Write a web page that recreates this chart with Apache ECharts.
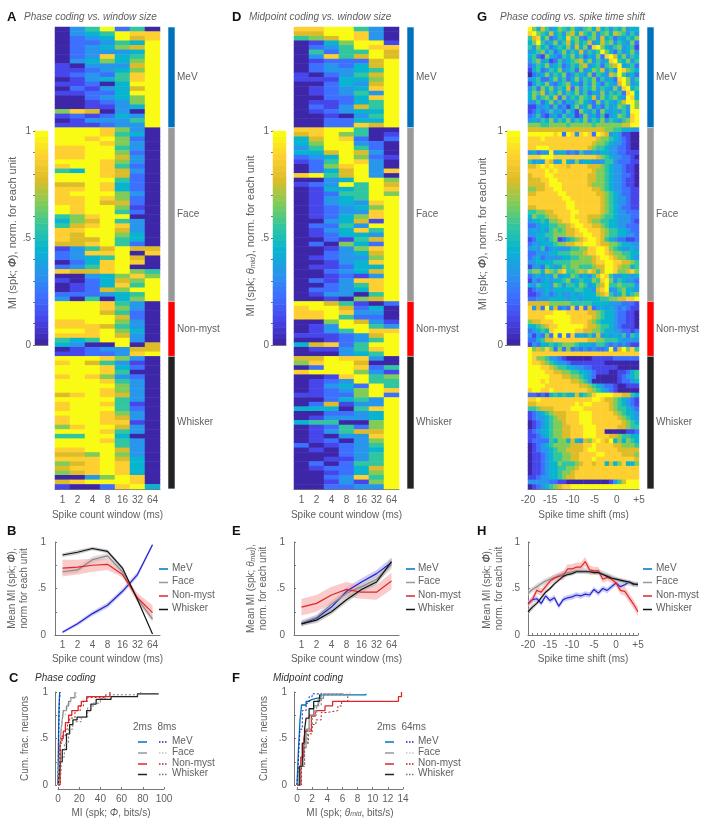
<!DOCTYPE html>
<html>
<head>
<meta charset="utf-8">
<title>Phase and midpoint coding</title>
<style>
    html, body { margin: 0; padding: 0; background: #fff; }
    #main { width: 707px; height: 827px; }
</style>
<script src="https://cdn.jsdelivr.net/npm/echarts@6/dist/echarts.min.js"></script>
</head>
<body>
<div id="main"></div>
<script>
const windowLabels = ['1', '2', '4', '8', '16', '32', '64']
const groupNames = ['MeV', 'Face', 'Non-myst', 'Whisker']
const groupSizes = [22, 38, 12, 29]

// heatmap rows, one digit per cell, 0 to 9 is the colour scale
const phaseWinMeV = ['0359250', '0345988', '0234978', '0223549', '0234679', '0233349', '0238459', '0346469', '1033379', '1123469', '1232589', '0134589', '1120499', '0213479', '1122499', '0023469', '0012369', '0011349', '6870309', '1212439', '0133359', '1112339']
const phaseWinFace = ['9998630', '9998540', '9989620', '9998630', '8899530', '8899620', '8899730', '9998630', '8998520', '5498730', '9998720', '9999520', '7798420', '8898420', '8999630', '8898620', '8897720', '9899610', '9899520', '5689900', '4679530', '5789830', '8899730', '8799640', '8779540', '7789520', '1357977', '2388908', '2345970', '0248980', '2358900', '8778965', '0034686', '1024769', '0124859', '0127699', '2223459', '3050469']
const phaseWinNon = ['9998530', '9998630', '9997520', '9999720', '8899630', '8887530', '9989640', '8889730', '5459930', '4300907', '0123377', '1122389']
const phaseWinWhisker = ['9998630', '8975310', '9998420', '9998500', '8986320', '9998530', '9999630', '9998630', '7898730', '9999530', '8998510', '8999520', '9998630', '8998730', '8998810', '6899730', '9998530', '5599400', '9998530', '9999530', '8899730', '7769630', '8889740', '6789840', '7889840', '6789840', '0036980', '7899980', '1002894']

const midWinMeV = ['8899530', '7799830', '5679830', '0146991', '0235988', '0525597', '0385797', '0122279', '0232479', '0233459', '1023579', '1114469', '0024379', '0123489', '0123539', '0022489', '0112459', '0213759', '0123449', '0010359', '0022449', '0022879']
const midWinFace = ['8899500', '7896501', '4798202', '4699320', '3599520', '4479730', '2349621', '1259830', '0268930', '0247938', '8957930', '0034996', '1239597', '0144598', '0125596', '0134599', '0134389', '0123469', '0123389', '0124689', '0034719', '0225399', '0134859', '0124439', '0021579', '0206429', '0013689', '0023479', '0123369', '0013489', '0112449', '0023479', '0012139', '0213889', '0023589', '0223489', '0133059', '0010679']
const midWinNon = ['9975102', '8997240', '8898330', '8895220', '0069731', '0139953', '0135988', '1112379', '0012359', '4782599', '0113589', '0003459']
const midWinWhisker = ['7798830', '6899700', '0299825', '8999631', '0018956', '0123955', '0134295', '0123698', '1122692', '0024539', '0271339', '4440589', '0022349', '0133349', '4550069', '0125269', '0135779', '0103389', '0120369', '2012359', '0102349', '0002359', '0011359', '0202559', '0122479', '0012469', '0023859', '0013169', '0022339']

const phaseShiftMeV = ['96475346546435647453546344', '89654745367475463564765353', '57846235485632563745243546', '46953463574645734756354362', '53645245463746289643563451', '34563524635473545964253463', '45216432546352436289746354', '35634125345674635348954635', '23546345235467345256793452', '14523546345263465735398654', '02346354623543625437695342', '34522463524635462534289635', '13546324563425364254379634', '35264635472635463543638945', '46573546354635243635452894', '46356472635465473645643984', '33524635243564326354357996', '11334252314634624253465396', '12423534253164352643435399', '23521342534126342513465389', '34354635463546354635435689', '66655666656666656666667799']
const phaseShiftFace = ['77777777777777777766554433', '99999989298389829873431100', '88898888888888887665432100', '88888888888888876654332100', '88999888888888765543322100', '34233934423253343443322111', '88899988888888887654332210', '53438734843634433355322211', '77898988878888777654332110', '88889898888888876654332110', '78889988888888776654332210', '77788998888888776654332110', '77778999888888766654332110', '66778899888888877654332211', '77888889988888887765432211', '88888888998888888765433211', '88888888899888888765433211', '77888888899888888765432211', '55667788889988888765433222', '46556778889888777655433322', '34454667889988766554433321', '22344556678998877654433222', '34343565677899888765544322', '33445566677889988765544332', '12443561245678998754322112', '23344456677889998776654433', '34352343335566889986543343', '22333445556667889987665544', '23423333445566678998766543', '33444455556666678899887765', '13325434656655567799876645', '56647657855676875799866786', '23434363446534357985334434', '13234344563454465896354332', '43544365355465346795565553', '12334344444554437893356443', '11234234334344446785346456', '22333444434434444556677889']
const phaseShiftNon = ['77777666665555544443332221', '83729372328282723434323211', '88888899988888776544322110', '88889999998888876544322110', '67788899998888765444322110', '44567889999998776554321110', '23454899999887766544332212', '31326292928343537343435254', '22457788888888776655543333', '13244545666544435532323211', '96768626262323232239279685', '98888888888888888888888888']
const phaseShiftWhisker = ['98665332100000011111222222', '98876543321111111100000000', '99988765544332211111100000', '99998877665544321110011245', '99999888776654320000012345', '99989888887765300000012234', '99998888888877654322100111', '89988988888888765432100000', '22121454544745689999887754', '88988888888888899877654321', '77888888888989988887654321', '55677788889998888887655432', '12345677788899988888765443', '12334567788899988888876543', '01234566788899988888887654', '01234566778889998888877655', '12344566778889998800000112', '11234566778889998887765544', '12222546647437689879464654', '01234566667778898888776665', '01233456677778998888877777', '01123455667788889988887776', '01123455667788898888888887', '01123446555678878847468446', '01123445566788888888888888', '01123445667888888888888888', '11233445677888888888888888', '33333221100000000001357999', '01234567889999999999999999']

// mean and error of panels B, E, H
const phaseWinMean = [
    [0.03, 0.12, 0.23, 0.32, 0.47, 0.65, 0.97],
    [0.68, 0.70, 0.81, 0.85, 0.68, 0.39, 0.17],
    [0.72, 0.73, 0.75, 0.76, 0.65, 0.40, 0.24],
    [0.86, 0.89, 0.93, 0.90, 0.72, 0.38, 0.01]
]
const phaseWinErr = [
    [0.015, 0.02, 0.025, 0.03, 0.03, 0.03, 0.02],
    [0.03, 0.03, 0.035, 0.03, 0.03, 0.03, 0.03],
    [0.09, 0.08, 0.07, 0.06, 0.03, 0.05, 0.08],
    [0.02, 0.025, 0.02, 0.02, 0.02, 0.01, 0.01]
]
const midWinMean = [
    [0.12, 0.18, 0.30, 0.47, 0.57, 0.66, 0.78],
    [0.13, 0.19, 0.33, 0.45, 0.52, 0.60, 0.76],
    [0.30, 0.34, 0.43, 0.49, 0.46, 0.46, 0.58],
    [0.12, 0.16, 0.25, 0.38, 0.49, 0.57, 0.79]
]
const midWinErr = [
    [0.03, 0.03, 0.04, 0.04, 0.04, 0.04, 0.05],
    [0.03, 0.03, 0.04, 0.04, 0.04, 0.04, 0.05],
    [0.09, 0.09, 0.09, 0.08, 0.07, 0.08, 0.09],
    [0.02, 0.03, 0.03, 0.03, 0.03, 0.03, 0.04]
]
const shiftTimes = ['-20', '-19', '-18', '-17', '-16', '-15', '-14', '-13', '-12', '-11', '-10', '-9', '-8', '-7', '-6', '-5', '-4', '-3', '-2', '-1', '0', '1', '2', '3', '4', '5']
const shiftMean = [
    [0.34, 0.38, 0.39, 0.34, 0.42, 0.37, 0.40, 0.31, 0.38, 0.40, 0.41, 0.43, 0.42, 0.44, 0.43, 0.49, 0.45, 0.50, 0.48, 0.52, 0.56, 0.52, 0.54, 0.57, 0.54, 0.55],
    [0.45, 0.49, 0.52, 0.55, 0.58, 0.60, 0.62, 0.64, 0.66, 0.67, 0.68, 0.69, 0.69, 0.69, 0.68, 0.68, 0.68, 0.66, 0.64, 0.62, 0.60, 0.58, 0.57, 0.56, 0.55, 0.54],
    [0.33, 0.38, 0.48, 0.46, 0.52, 0.58, 0.61, 0.63, 0.64, 0.71, 0.71, 0.73, 0.73, 0.79, 0.70, 0.69, 0.69, 0.60, 0.62, 0.60, 0.56, 0.48, 0.47, 0.40, 0.33, 0.25],
    [0.25, 0.30, 0.34, 0.40, 0.46, 0.50, 0.55, 0.59, 0.63, 0.65, 0.66, 0.68, 0.68, 0.68, 0.68, 0.67, 0.67, 0.65, 0.63, 0.61, 0.60, 0.59, 0.58, 0.57, 0.55, 0.54]
]
const shiftErr = [
    [0.03, 0.03, 0.03, 0.03, 0.03, 0.03, 0.03, 0.03, 0.03, 0.03, 0.03, 0.03, 0.03, 0.03, 0.03, 0.03, 0.03, 0.03, 0.03, 0.03, 0.03, 0.03, 0.02, 0.02, 0.02, 0.02],
    [0.03, 0.03, 0.03, 0.03, 0.03, 0.03, 0.03, 0.03, 0.03, 0.03, 0.03, 0.03, 0.03, 0.03, 0.03, 0.03, 0.03, 0.03, 0.03, 0.03, 0.03, 0.03, 0.03, 0.03, 0.03, 0.03],
    [0.03, 0.04, 0.04, 0.04, 0.04, 0.04, 0.04, 0.04, 0.05, 0.05, 0.05, 0.05, 0.05, 0.05, 0.05, 0.04, 0.04, 0.04, 0.04, 0.04, 0.04, 0.04, 0.05, 0.05, 0.05, 0.05],
    [0.03, 0.03, 0.02, 0.02, 0.02, 0.02, 0.02, 0.02, 0.02, 0.02, 0.02, 0.02, 0.02, 0.02, 0.02, 0.02, 0.02, 0.02, 0.02, 0.02, 0.02, 0.02, 0.02, 0.02, 0.02, 0.02]
]

// cumulative fractions, [MI, fraction]
const cumPhase2 = [
    [[0, 0], [0.3, 0.3], [0.6, 0.6], [1, 0.85], [1.6, 1]],
    [[0, 0], [1, 0.2], [2, 0.45], [3, 0.6], [4, 0.7], [5, 0.8], [8, 0.85], [10, 0.9], [12, 0.94], [16, 1]],
    [[0, 0], [2, 0.42], [3, 0.5], [5, 0.58], [7, 0.67], [10, 0.75], [13, 0.8], [19, 0.85], [22, 0.9], [27, 0.95], [49, 1]],
    [[0, 0], [1, 0.1], [2, 0.25], [4, 0.38], [8, 0.55], [11, 0.65], [14, 0.7], [18, 0.73], [27, 0.8], [31, 0.87], [36, 0.92], [50, 0.95], [75, 0.98], [95, 0.98]]
]
const cumPhase8 = [
    [[0, 0], [0.4, 0.35], [0.9, 0.7], [1.3, 0.9], [2, 1]],
    [[0, 0], [1.2, 0.25], [2.4, 0.5], [3.5, 0.65], [5, 0.75], [7, 0.82], [9, 0.88], [12, 0.93], [17, 1]],
    [[0, 0], [2, 0.45], [4, 0.53], [7, 0.6], [9, 0.67], [11, 0.72], [16, 0.8], [21, 0.85], [24, 0.9], [28, 0.94], [45, 0.98]],
    [[0, 0], [1, 0.12], [3, 0.3], [6, 0.45], [10, 0.6], [14, 0.68], [22, 0.73], [28, 0.83], [33, 0.88], [40, 0.93], [45, 0.97], [75, 0.98], [78, 1]]
]
const cumMid2 = [
    [[0, 0], [0.2, 0.4], [0.4, 0.7], [0.6, 0.86], [1.2, 0.9], [1.5, 0.92], [2, 0.94], [3, 0.97], [9.1, 0.98]],
    [[0, 0], [0.4, 0.2], [0.8, 0.4], [1.2, 0.6], [1.6, 0.75], [2.2, 0.85], [2.8, 0.93], [3.5, 0.98], [6, 0.99]],
    [[0, 0], [0.5, 0.3], [0.9, 0.5], [1.1, 0.58], [1.9, 0.74], [2.4, 0.8], [3.7, 0.85], [4.7, 0.9], [13.4, 0.95], [13.8, 1]],
    [[0, 0], [0.3, 0.2], [0.7, 0.45], [1, 0.6], [1.2, 0.72], [1.6, 0.82], [2.2, 0.9], [3, 0.97]]
]
const cumMid64 = [
    [[0, 0], [0.2, 0.3], [0.4, 0.6], [0.7, 0.8], [1.2, 0.88], [1.6, 0.95], [2, 0.98], [3.2, 0.99]],
    [[0, 0], [0.5, 0.2], [1, 0.45], [1.5, 0.6], [2, 0.75], [2.5, 0.85], [3, 0.92], [3.4, 0.98], [7, 1]],
    [[0, 0], [0.6, 0.2], [1, 0.45], [1.5, 0.55], [2, 0.65], [2.5, 0.7], [3.2, 0.78], [4, 0.8], [5.4, 0.85], [5.9, 0.9], [6.7, 0.95], [6.9, 0.97]],
    [[0, 0], [0.5, 0.2], [1, 0.45], [1.4, 0.6], [2, 0.75], [2.6, 0.86], [3.2, 0.97], [6.8, 0.98]]
]

const colorbarLevels = [0, 0.25, 0.5, 0.75, 1, 1.25, 1.5, 1.75, 2, 2.25, 2.5, 2.75, 3, 3.25, 3.5, 3.75, 4, 4.25, 4.5, 4.75, 5, 5.25, 5.5, 5.75, 6, 6.25, 6.5, 6.75, 7, 7.25, 7.5, 7.75, 8, 8.25, 8.5, 8.75, 9]

const parula = ['#3e26a8', '#4746eb', '#3d70ff', '#2796eb', '#09b4d0', '#31c69f', '#81cc59', '#dcbd29', '#fdcf30', '#f9fb15']
const groupColors = ['#0072bd', '#999999', '#ff0000', '#222222']
const lineColors = ['#2222d0', '#8a8a8a', '#e0262a', '#111111']
const bandColors = ['#aaaaf2', '#c4c4c4', '#f5a8a8', '#a8a8a8']
const dashColors = ['#1a2aa0', '#c4c4c4', '#b02020', '#777777']
const textGray = '#5f5f5f'
const axisGray = '#777'
const fontName = 'Liberation Sans'

let grids = []
let xAxes = []
let yAxes = []
let series = []
let visualMaps = []
let graphics = []

function addGrid(left, top, width, height) {
    grids.push({ left: left, top: top, width: width, height: height, containLabel: false })
    return grids.length - 1
}

function fracLabel(value) {
    if (value === 1) return '1'
    if (value === 0.5) return '.5'
    if (value === 0) return '0'
    return ''
}

function shiftLabel(value) {
    if (value % 5 !== 0) return ''
    return value > 0 ? '+' + value : String(value)
}

function nameRich(size) {
    return {
        a: { fontFamily: fontName, fontSize: size, color: textGray },
        b: { fontFamily: fontName, fontSize: size, color: textGray, fontStyle: 'italic', fontWeight: 'bold' },
        c: { fontFamily: fontName, fontSize: size, color: textGray, fontStyle: 'italic' },
        d: { fontFamily: fontName, fontSize: 7, color: textGray, fontStyle: 'italic', verticalAlign: 'bottom' }
    }
}

function xAxisBase(grid, name) {
    return {
        gridIndex: grid,
        position: 'bottom',
        name: name,
        nameLocation: 'middle',
        nameGap: 19,
        nameTextStyle: { fontFamily: fontName, fontSize: 10, color: textGray, rich: nameRich(10) },
        axisLine: { show: true, onZero: false, lineStyle: { color: axisGray, width: 1 } },
        axisTick: { show: true, inside: true, length: 2, lineStyle: { color: axisGray } },
        axisLabel: { fontFamily: fontName, fontSize: 10, color: textGray, margin: 5 },
        splitLine: { show: false }
    }
}

function yFracAxis(grid, name, gap, step) {
    return {
        gridIndex: grid,
        type: 'value',
        position: 'left',
        min: 0,
        max: 1,
        interval: step,
        name: name,
        nameLocation: 'middle',
        nameGap: gap,
        nameTextStyle: { fontFamily: fontName, fontSize: 10, color: textGray, lineHeight: 12, rich: nameRich(10) },
        axisLine: { show: true, onZero: false, lineStyle: { color: axisGray, width: 1 } },
        axisTick: { show: true, inside: true, length: 2, lineStyle: { color: axisGray } },
        axisLabel: { fontFamily: fontName, fontSize: 10, color: textGray, margin: 9, formatter: fracLabel },
        splitLine: { show: false }
    }
}

function toCells(rows) {
    let cells = []
    rows.forEach((row, y) => {
        row.split('').forEach((digit, x) => {
            cells.push([x, y, Number(digit)])
        })
    })
    return cells
}

function addHeatmap(left, width, rows, columns, xAxisOption) {
    let grid = addGrid(left, 27, width, 462)
    let rowNames = rows.map((row, i) => String(i))
    let visibleX = Object.assign(xAxisBase(grid, xAxisOption.name), xAxisOption)
    xAxes.push(visibleX)
    if (visibleX.type !== 'category') {
        xAxes.push({ gridIndex: grid, position: 'bottom', type: 'category', data: columns, show: false })
    }
    yAxes.push({ gridIndex: grid, type: 'category', data: rowNames, inverse: true, show: false })
    series.push({
        type: 'heatmap',
        xAxisIndex: xAxes.length - 1,
        yAxisIndex: yAxes.length - 1,
        data: toCells(rows),
        progressive: 0,
        silent: true
    })
}

function addColorbar(left, heatmapIndex, name, gap, shift) {
    let grid = addGrid(left, 131, 13, 214)
    xAxes.push({
        gridIndex: grid,
        type: 'category',
        position: 'top',
        data: ['level'],
        axisLine: { show: true, lineStyle: { color: '#8f8f6a' } },
        axisTick: { show: false },
        axisLabel: { show: false }
    })
    yAxes.push({ gridIndex: grid, type: 'category', data: colorbarLevels.map(String), show: false })
    let barSeries = series.length
    series.push({
        type: 'heatmap',
        xAxisIndex: xAxes.length - 1,
        yAxisIndex: yAxes.length - 1,
        data: colorbarLevels.map((level, i) => [0, i, level]),
        progressive: 0,
        silent: true
    })
    visualMaps.push({
        type: 'continuous',
        show: false,
        min: 0,
        max: 9,
        seriesIndex: [heatmapIndex, barSeries],
        inRange: { color: parula }
    })
    let axis = yFracAxis(grid, name, gap, 0.1)
    axis.axisLine.lineStyle.color = '#8f8f6a'
    axis.axisTick.inside = false
    axis.axisLabel.margin = 4
    axis.nameTextStyle.rich = nameRich(11)
    axis.nameTextStyle.padding = [0, 0, 0, shift]
    yAxes.push(axis)
}

function addGroupBar(left, width) {
    let grid = addGrid(left, 27, width, 462)
    xAxes.push({ gridIndex: grid, type: 'category', data: ['units'], show: false })
    yAxes.push({ gridIndex: grid, type: 'value', min: 0, max: 101, inverse: true, show: false })
    groupSizes.forEach((size, i) => {
        series.push({
            type: 'bar',
            name: groupNames[i],
            stack: 'groups' + grid,
            xAxisIndex: xAxes.length - 1,
            yAxisIndex: yAxes.length - 1,
            data: [size],
            barWidth: '100%',
            itemStyle: { color: groupColors[i], borderColor: '#dfeaf0', borderWidth: 0.3 },
            label: {
                show: true,
                position: 'right',
                distance: 2,
                formatter: groupNames[i],
                fontFamily: fontName,
                fontSize: 10,
                color: textGray
            },
            silent: true
        })
    })
}

function addBand(xIndex, yIndex, xs, mean, err, color, bandColor) {
    let stackName = 'band' + series.length
    let common = { type: 'line', xAxisIndex: xIndex, yAxisIndex: yIndex, symbol: 'none', silent: true }
    series.push(Object.assign({}, common, {
        stack: stackName,
        data: xs.map((x, i) => [x, mean[i] - err[i]]),
        lineStyle: { opacity: 0 }
    }))
    series.push(Object.assign({}, common, {
        stack: stackName,
        data: xs.map((x, i) => [x, 2 * err[i]]),
        lineStyle: { opacity: 0 },
        areaStyle: { color: bandColor, opacity: 0.6 }
    }))
    series.push(Object.assign({}, common, {
        data: xs.map((x, i) => [x, mean[i]]),
        lineStyle: { color: color, width: 1.2 }
    }))
}

function addMeanPanel(left, width, means, errs, xs, xAxisOption, yName, yGap, labelMargin) {
    let grid = addGrid(left, 542, width, 93)
    let visibleX = Object.assign(xAxisBase(grid, xAxisOption.name), xAxisOption)
    xAxes.push(visibleX)
    if (visibleX.type !== 'category') {
        // the stacked bands need a category axis, the value axis above only shows the ticks
        xAxes.push({ gridIndex: grid, position: 'bottom', type: 'category', data: xs, boundaryGap: false, show: false })
    }
    let yAxis = yFracAxis(grid, yName, yGap, 0.25)
    yAxis.axisLabel.margin = labelMargin
    yAxes.push(yAxis)
    let xIndex = xAxes.length - 1
    let yIndex = yAxes.length - 1
    means.forEach((mean, i) => {
        addBand(xIndex, yIndex, xs, mean, errs[i], lineColors[i], bandColors[i])
    })
}

function addCumPanel(left, xMax, xStep, solid, dashed, xName) {
    let grid = addGrid(left, 692, 106, 93)
    let xAxis = xAxisBase(grid, xName)
    xAxis.type = 'value'
    xAxis.min = 0
    xAxis.max = xMax
    xAxis.interval = xStep
    xAxis.offset = 4
    xAxes.push(xAxis)
    let yAxis = yFracAxis(grid, 'Cum. frac. neurons', 24, 0.25)
    yAxis.offset = 3
    yAxis.axisLabel.margin = 7
    yAxes.push(yAxis)
    let xIndex = xAxes.length - 1
    let yIndex = yAxes.length - 1
    let solidColors = [groupColors[0], '#8a8a8a', '#e0262a', '#222222']
    solid.forEach((points, i) => {
        series.push({
            type: 'line', step: 'end', xAxisIndex: xIndex, yAxisIndex: yIndex, symbol: 'none', silent: true,
            data: points,
            lineStyle: { color: solidColors[i], width: 1.3 }
        })
    })
    dashed.forEach((points, i) => {
        series.push({
            type: 'line', step: 'end', xAxisIndex: xIndex, yAxisIndex: yIndex, symbol: 'none', silent: true,
            data: points,
            lineStyle: { color: dashColors[i], width: 1, type: [2, 2] }
        })
    })
}

function addText(x, y, text, style) {
    graphics.push({
        type: 'text',
        left: x,
        top: y,
        style: Object.assign({
            text: text,
            fontFamily: fontName,
            fontSize: 10,
            fill: textGray,
            verticalAlign: 'top'
        }, style)
    })
}

function addSwatch(x1, x2, y, color, dash) {
    graphics.push({
        type: 'line',
        shape: { x1: x1, y1: y, x2: x2, y2: y },
        style: { stroke: color, lineWidth: 1.5, lineDash: dash }
    })
}

function addLegend(swatchX, textX, colors) {
    let rowsY = [569, 582.5, 596, 609.5]
    groupNames.forEach((name, i) => {
        addSwatch(swatchX, swatchX + 9, rowsY[i], colors[i])
        addText(textX, rowsY[i] - 6, name)
    })
}

function addCumLegend(headX, head, solidX, dashX, textX) {
    let rowsY = [742, 753, 764, 774.5]
    let solidColors = [groupColors[0], '#999999', '#e0262a', '#222222']
    addText(headX, 722, head)
    groupNames.forEach((name, i) => {
        addSwatch(solidX, solidX + 9, rowsY[i], solidColors[i])
        addSwatch(dashX, dashX + 8, rowsY[i], dashColors[i], [1.5, 1.5])
        addText(textX, rowsY[i] - 6, name)
    })
}

function addLetter(x, y, text) {
    addText(x, y, text, { fontSize: 13, fontWeight: 'bold', fill: '#111' })
}

// heatmaps first so that the visual maps can name them by index
let rowsA = phaseWinMeV.concat(phaseWinFace, phaseWinNon, phaseWinWhisker)
let rowsD = midWinMeV.concat(midWinFace, midWinNon, midWinWhisker)
let rowsG = phaseShiftMeV.concat(phaseShiftFace, phaseShiftNon, phaseShiftWhisker)

let heatWindowAxis = {
    type: 'category',
    data: windowLabels,
    name: 'Spike count window (ms)',
    axisTick: { alignWithLabel: true, length: 2, lineStyle: { color: axisGray } },
    axisLabel: { fontFamily: fontName, fontSize: 10, color: textGray, margin: 6 }
}
let heatShiftAxis = {
    type: 'value',
    name: 'Spike time shift (ms)',
    min: -20,
    max: 5,
    interval: 1,
    axisTick: { length: 2, lineStyle: { color: axisGray } },
    axisLabel: { fontFamily: fontName, fontSize: 10, color: textGray, margin: 6, formatter: shiftLabel }
}
addHeatmap(55, 105, rowsA, windowLabels, heatWindowAxis)
addHeatmap(294, 105, rowsD, windowLabels, heatWindowAxis)
addHeatmap(528, 111, rowsG, shiftTimes, heatShiftAxis)

addColorbar(35, 0, '{a|MI (spk; }{b|Φ}{a|), norm. for each unit}', 15, 10)
addColorbar(273, 1, '{a|MI (spk; }{c|θ}{d|mid}{a|), norm. for each unit}', 15, 4)
addColorbar(507, 2, '{a|MI (spk; }{b|Φ}{a|), norm. for each unit}', 18, 8)

addGroupBar(168, 7)
addGroupBar(407, 7)
addGroupBar(647, 7)

let categoryAxis = {
    type: 'category',
    data: windowLabels,
    name: 'Spike count window (ms)',
    axisTick: { show: false }
}
addMeanPanel(55, 105, phaseWinMean, phaseWinErr, windowLabels, categoryAxis, '{a|Mean MI (spk; }{b|Φ}{a|),}\n{a|norm for each unit}', 25, 9)
addMeanPanel(294, 105, midWinMean, midWinErr, windowLabels, categoryAxis, '{a|Mean MI (spk; }{c|θ}{d|mid}{a|),}\n{a|norm. for each unit}', 25, 9)
addMeanPanel(528, 110, shiftMean, shiftErr, shiftTimes, {
    type: 'value',
    name: 'Spike time shift (ms)',
    min: -20,
    max: 5,
    interval: 1,
    axisLabel: { fontFamily: fontName, fontSize: 10, color: textGray, margin: 5, formatter: shiftLabel }
}, '{a|Mean MI (spk; }{b|Φ}{a|),}\n{a|norm. for each unit}', 23, 8)

addCumPanel(58, 100, 20, cumPhase2, cumPhase8, '{a|MI (spk; }{c|Φ}{a|, bits/s)}')
addCumPanel(297, 14, 2, cumMid2, cumMid64, '{a|MI (spk; }{c|θ}{d|mid}{a|, bits/s)}')

addLegend(159, 172, [groupColors[0], '#999999', '#e0262a', '#111111'])
addLegend(406, 418, [groupColors[0], '#999999', '#e0262a', '#111111'])
addLegend(643, 656, [groupColors[0], '#999999', '#e0262a', '#111111'])
addCumLegend(133, '2ms  8ms', 138, 159, 172)
addCumLegend(377, '2ms  64ms', 385, 406, 418)

addLetter(7, 11, 'A')
addLetter(232, 11, 'D')
addLetter(477, 11, 'G')
addLetter(7, 525, 'B')
addLetter(232, 525, 'E')
addLetter(477, 525, 'H')
addLetter(9, 672, 'C')
addLetter(232, 672, 'F')

let titleStyle = { fontStyle: 'italic', fontSize: 10 }
addText(24, 12, 'Phase coding vs. window size', titleStyle)
addText(249, 12, 'Midpoint coding vs. window size', titleStyle)
addText(500, 12, 'Phase coding vs. spike time shift', titleStyle)
addText(35, 673, 'Phase coding', { fontStyle: 'italic', fontSize: 10, fill: '#333' })
addText(273, 673, 'Midpoint coding', { fontStyle: 'italic', fontSize: 10, fill: '#333' })

let chart = echarts.init(document.getElementById('main'), null, { renderer: 'canvas' })
chart.setOption({
    animation: false,
    backgroundColor: '#fff',
    grid: grids,
    xAxis: xAxes,
    yAxis: yAxes,
    visualMap: visualMaps,
    series: series,
    graphic: graphics
})
</script>
</body>
</html>
